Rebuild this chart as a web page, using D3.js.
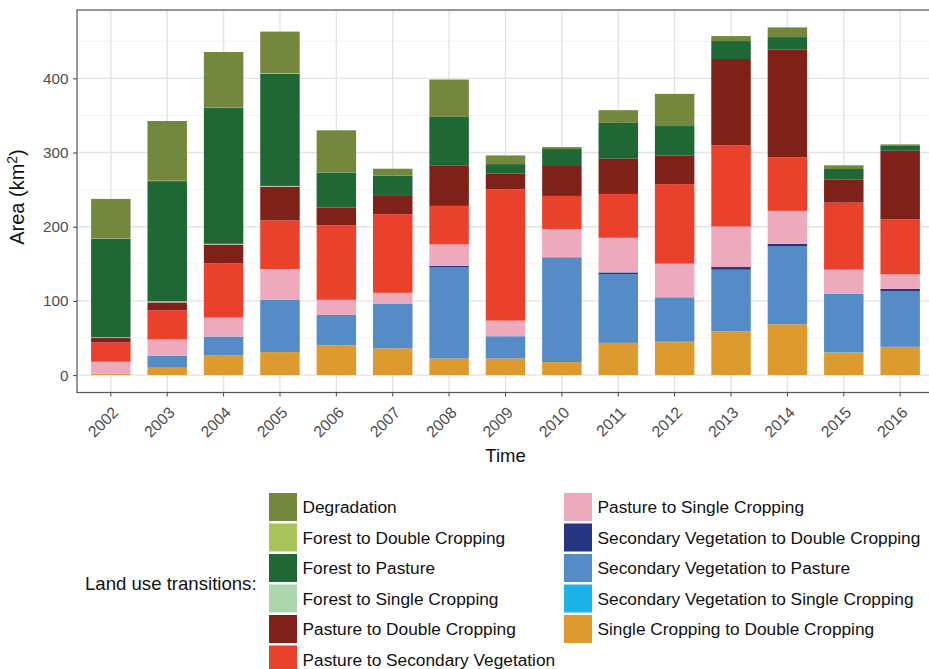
<!DOCTYPE html>
<html>
<head>
<meta charset="utf-8">
<script src="https://cdn.jsdelivr.net/npm/d3@7"></script>
<style>
  body { margin: 0; background: #fff; }
  text { font-family: "Liberation Sans", Arial, sans-serif; }
</style>
</head>
<body>
<div id="chart"></div>
<script>
// years on the x axis
const years = ["2002","2003","2004","2005","2006","2007","2008","2009","2010","2011","2012","2013","2014","2015","2016"];

// area (km2) per transition, one value per year
const singleToDouble    = [2, 10, 27, 31, 40, 36, 22.4, 22.4, 17.5, 43.5, 44.5, 58.5, 68.5, 30.5, 38.2];
const secVegToSingle    = [0, 0, 0, 0, 0, 0, 0, 0, 0, 0, 0.5, 0.6, 0, 0.5, 0];
const secVegToPasture   = [0, 16, 25, 70.5, 41, 60.5, 122.8, 30, 139.8, 92.8, 59.9, 83, 104.9, 78.8, 74.7];
const secVegToDouble    = [0, 0, 0, 0, 0, 0, 2.2, 0, 1.3, 2.1, 0, 3.6, 3.6, 0, 3.2];
const pastureToSingle   = [16, 22, 25.5, 41.5, 20.5, 14.4, 28.7, 21, 38.2, 46.7, 45.3, 54.6, 44.4, 32.3, 19.7];
const pastureToSecVeg   = [26, 39.5, 73, 65.5, 100.5, 106, 52, 177, 44.7, 59.1, 107.2, 109.4, 72.1, 90.4, 74.4];
const pastureToDouble   = [6, 10.5, 25.5, 45.5, 24, 24.6, 54.7, 21.5, 40.4, 47.5, 38.4, 116.4, 145.6, 30.9, 92.2];
const forestToSingle    = [1, 1.5, 1, 1, 0, 0, 0, 0, 0, 0, 0, 0, 0, 0, 0];
const forestToPasture   = [133, 162, 183, 151, 47, 27.3, 65.3, 12.5, 22.8, 48.3, 39.9, 24.2, 16.5, 14.4, 7.3];
const forestToDouble    = [0.5, 0.5, 0.5, 1, 0, 0, 0, 0, 0, 0, 0, 0, 0, 0, 0];
const degradation       = [53, 80.5, 75, 56, 57, 9.4, 50.3, 11.7, 2.7, 17.1, 43.4, 6.7, 13.1, 5, 1.3];

// legend order (top of stack first)
const legendNames = [
  "Degradation", "Forest to Double Cropping", "Forest to Pasture", "Forest to Single Cropping",
  "Pasture to Double Cropping", "Pasture to Secondary Vegetation", "Pasture to Single Cropping",
  "Secondary Vegetation to Double Cropping", "Secondary Vegetation to Pasture",
  "Secondary Vegetation to Single Cropping", "Single Cropping to Double Cropping"
];
const legendColors = [
  "#74883d", "#a9c35b", "#1f6734", "#acd6ae", "#7f2119", "#ea412c", "#edaabd",
  "#263581", "#558bc7", "#1db3e6", "#dd9b2f"
];
const seriesValues = [
  degradation, forestToDouble, forestToPasture, forestToSingle, pastureToDouble,
  pastureToSecVeg, pastureToSingle, secVegToDouble, secVegToPasture, secVegToSingle, singleToDouble
];
const yTicks = [0, 100, 200, 300, 400];

const width = 929, height = 669;
const panel = { left: 77, top: 10, right: 934, bottom: 392.5 };

const svg = d3.select("#chart").append("svg")
  .attr("width", width).attr("height", height);

// build table rows for d3.stack
const rows = years.map((yr, i) => {
  const r = { year: yr };
  legendNames.forEach((n, k) => { r[n] = seriesValues[k][i]; });
  return r;
});
const stackKeys = legendNames.slice().reverse(); // bottom first
const series = d3.stack().keys(stackKeys)(rows);

const maxTotal = d3.max(series[series.length - 1], d => d[1]);
const pad = maxTotal * 0.05;

const x = d3.scaleBand().domain(years)
  .range([panel.left, panel.right])
  .paddingInner(0.3).paddingOuter(0.25);
const y = d3.scaleLinear().domain([-pad, maxTotal + pad])
  .range([panel.bottom, panel.top]);

// grid
const grid = svg.append("g");
const minor = d3.range(50, 500, 100);
grid.selectAll(".minor").data(minor).enter().append("line")
  .attr("x1", panel.left).attr("x2", panel.right)
  .attr("y1", d => y(d)).attr("y2", d => y(d))
  .attr("stroke", "#f0f0f0").attr("stroke-width", 0.8);
grid.selectAll(".major").data(yTicks).enter().append("line")
  .attr("x1", panel.left).attr("x2", panel.right)
  .attr("y1", d => y(d)).attr("y2", d => y(d))
  .attr("stroke", "#e4e4e4").attr("stroke-width", 1.4);
grid.selectAll(".vert").data(years).enter().append("line")
  .attr("x1", d => x(d) + x.bandwidth() / 2).attr("x2", d => x(d) + x.bandwidth() / 2)
  .attr("y1", panel.top).attr("y2", panel.bottom)
  .attr("stroke", "#e4e4e4").attr("stroke-width", 1.4);

// bars
const color = d3.scaleOrdinal().domain(legendNames).range(legendColors);
svg.append("g").selectAll("g").data(series).enter().append("g")
  .attr("fill", d => color(d.key))
  .selectAll("rect").data(d => d).enter().append("rect")
  .attr("x", d => x(d.data.year))
  .attr("width", x.bandwidth())
  .attr("y", d => y(d[1]))
  .attr("height", d => y(d[0]) - y(d[1]));

// panel border
svg.append("rect")
  .attr("x", panel.left).attr("y", panel.top)
  .attr("width", panel.right - panel.left).attr("height", panel.bottom - panel.top)
  .attr("fill", "none").attr("stroke", "#555").attr("stroke-width", 1.2);

// y axis
const yAxis = svg.append("g")
  .attr("transform", `translate(${panel.left},0)`)
  .call(d3.axisLeft(y).tickValues(yTicks).tickSize(4).tickPadding(4.5));
yAxis.select(".domain").remove();
yAxis.selectAll("line").attr("stroke", "#444");
yAxis.selectAll("text").attr("fill", "#4d4d4d").style("font-size", "15.3px")
  .style("font-family", "Liberation Sans, Arial, sans-serif");

// x axis
const xAxis = svg.append("g")
  .attr("transform", `translate(0,${panel.bottom})`)
  .call(d3.axisBottom(x).tickSize(4));
xAxis.select(".domain").remove();
xAxis.selectAll("line").attr("stroke", "#444");
xAxis.selectAll("text")
  .attr("fill", "#4d4d4d").style("font-size", "15.8px")
  .style("font-family", "Liberation Sans, Arial, sans-serif")
  .attr("text-anchor", "end")
  .attr("dy", null).attr("y", 0)
  .attr("transform", "translate(8.5,21) rotate(-45)");

// axis titles
svg.append("text")
  .attr("x", (panel.left + panel.right) / 2).attr("y", 462)
  .attr("text-anchor", "middle").style("font-size", "18.5px").attr("fill", "#111")
  .text("Time");
const yt = svg.append("text")
  .attr("transform", `translate(23.5,197) rotate(-90)`)
  .attr("text-anchor", "middle").style("font-size", "20px").attr("fill", "#111");
yt.append("tspan").text("Area (km");
yt.append("tspan").attr("dy", -7).style("font-size", "14px").text("2");
yt.append("tspan").attr("dy", 7).text(")");

// legend
const legend = svg.append("g");
legend.append("text")
  .attr("x", 85).attr("y", 590)
  .style("font-size", "18.6px").attr("fill", "#111")
  .text("Land use transitions:");
const perCol = 6;
legendNames.forEach((name, i) => {
  const col = Math.floor(i / perCol), row = i % perCol;
  const gx = col === 0 ? 269 : 564;
  const gy = 493 + row * 30.5;
  const item = legend.append("g").attr("transform", `translate(${gx},${gy})`);
  item.append("rect").attr("width", 28).attr("height", 28).attr("fill", color(name));
  item.append("text").attr("x", 33.5).attr("y", 20.2)
    .style("font-size", "17.3px").attr("fill", "#111").text(name);
});
</script>
</body>
</html>
